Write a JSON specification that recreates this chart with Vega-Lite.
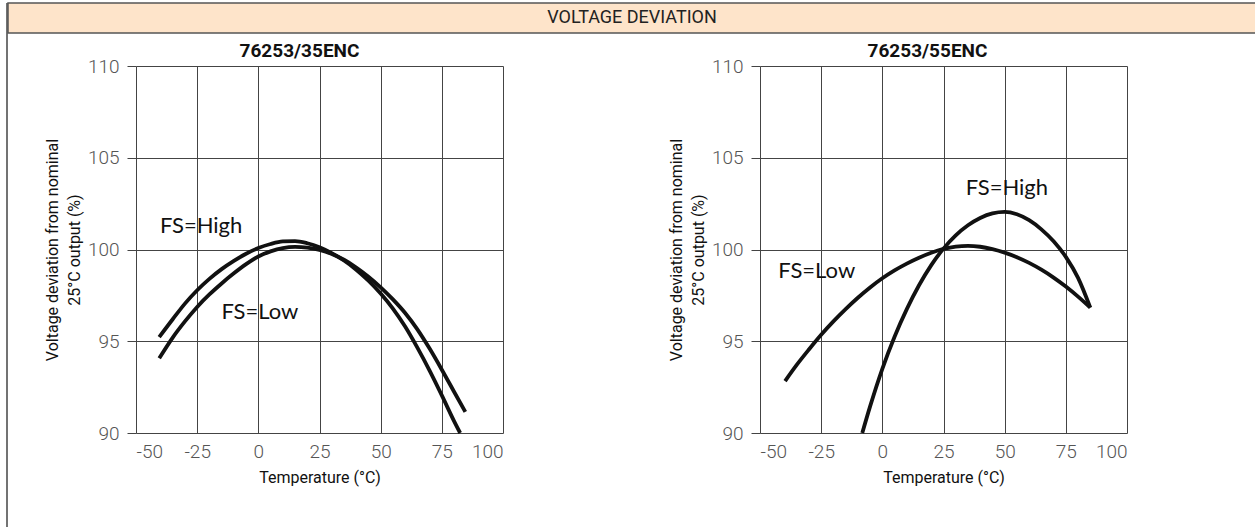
{
  "$schema": "https://vega.github.io/schema/vega-lite/v6.json",
  "padding": {"left": 6, "top": 2, "right": 0, "bottom": 0},
  "background": "white",
  "config": {
    "view": {"stroke": null},
    "font": "Roboto",
    "axis": {
      "grid": true,
      "gridColor": "#444",
      "gridWidth": 1,
      "gridOpacity": 1,
      "domain": false,
      "labelFont": "Roboto",
      "labelFontSize": 19,
      "labelFontWeight": 300,
      "labelColor": "#555",
      "labelExpr": "datum.value",
      "titleFont": "Roboto",
      "titleFontSize": 16,
      "titleFontWeight": "normal",
      "titleColor": "#111"
    },
    "title": {
      "font": "Roboto",
      "fontSize": 19,
      "fontWeight": "bold",
      "color": "#111",
      "frame": "group",
      "anchor": "middle",
      "baseline": "alphabetic",
      "offset": -4
    }
  },
  "datasets": {
    "c35": [
      {"s": "High", "t": -40.5, "v": 95.23},
      {"s": "High", "t": -35, "v": 96.2},
      {"s": "High", "t": -30, "v": 97.05},
      {"s": "High", "t": -25, "v": 97.78},
      {"s": "High", "t": -20, "v": 98.4},
      {"s": "High", "t": -15, "v": 98.93},
      {"s": "High", "t": -10, "v": 99.38},
      {"s": "High", "t": -5, "v": 99.77},
      {"s": "High", "t": 0, "v": 100.08},
      {"s": "High", "t": 5, "v": 100.3},
      {"s": "High", "t": 10, "v": 100.44},
      {"s": "High", "t": 15, "v": 100.46},
      {"s": "High", "t": 20, "v": 100.34},
      {"s": "High", "t": 25, "v": 100.12},
      {"s": "High", "t": 30, "v": 99.8},
      {"s": "High", "t": 35, "v": 99.4},
      {"s": "High", "t": 40, "v": 98.9},
      {"s": "High", "t": 45, "v": 98.3},
      {"s": "High", "t": 50, "v": 97.6},
      {"s": "High", "t": 55, "v": 96.78},
      {"s": "High", "t": 60, "v": 95.8},
      {"s": "High", "t": 65, "v": 94.65},
      {"s": "High", "t": 70, "v": 93.4},
      {"s": "High", "t": 75, "v": 92.05},
      {"s": "High", "t": 80, "v": 90.65},
      {"s": "High", "t": 82.5, "v": 90.0},
      {"s": "Low", "t": -40.5, "v": 94.07},
      {"s": "Low", "t": -35, "v": 95.2},
      {"s": "Low", "t": -30, "v": 96.08},
      {"s": "Low", "t": -25, "v": 96.87},
      {"s": "Low", "t": -20, "v": 97.55},
      {"s": "Low", "t": -15, "v": 98.15},
      {"s": "Low", "t": -10, "v": 98.7},
      {"s": "Low", "t": -5, "v": 99.2},
      {"s": "Low", "t": 0, "v": 99.62},
      {"s": "Low", "t": 5, "v": 99.9},
      {"s": "Low", "t": 10, "v": 100.08},
      {"s": "Low", "t": 15, "v": 100.14},
      {"s": "Low", "t": 20, "v": 100.1},
      {"s": "Low", "t": 25, "v": 99.98},
      {"s": "Low", "t": 30, "v": 99.76},
      {"s": "Low", "t": 35, "v": 99.44},
      {"s": "Low", "t": 40, "v": 99.02},
      {"s": "Low", "t": 45, "v": 98.52},
      {"s": "Low", "t": 50, "v": 97.94},
      {"s": "Low", "t": 55, "v": 97.28},
      {"s": "Low", "t": 60, "v": 96.54},
      {"s": "Low", "t": 65, "v": 95.65},
      {"s": "Low", "t": 70, "v": 94.6},
      {"s": "Low", "t": 75, "v": 93.45},
      {"s": "Low", "t": 80, "v": 92.25},
      {"s": "Low", "t": 84.6, "v": 91.15}
    ],
    "c55": [
      {"s": "High", "t": -8.2, "v": 90.0},
      {"s": "High", "t": -5, "v": 91.45},
      {"s": "High", "t": 0, "v": 93.5},
      {"s": "High", "t": 5, "v": 95.25},
      {"s": "High", "t": 10, "v": 96.75},
      {"s": "High", "t": 15, "v": 98.05},
      {"s": "High", "t": 20, "v": 99.15},
      {"s": "High", "t": 25, "v": 100.05},
      {"s": "High", "t": 30, "v": 100.77},
      {"s": "High", "t": 35, "v": 101.32},
      {"s": "High", "t": 40, "v": 101.72},
      {"s": "High", "t": 45, "v": 101.97},
      {"s": "High", "t": 50, "v": 102.05},
      {"s": "High", "t": 55, "v": 101.92},
      {"s": "High", "t": 60, "v": 101.6},
      {"s": "High", "t": 65, "v": 101.1},
      {"s": "High", "t": 70, "v": 100.45},
      {"s": "High", "t": 75, "v": 99.6},
      {"s": "High", "t": 80, "v": 98.45},
      {"s": "High", "t": 85, "v": 96.83},
      {"s": "Low", "t": -39.75, "v": 92.83},
      {"s": "Low", "t": -35, "v": 93.71},
      {"s": "Low", "t": -30, "v": 94.55},
      {"s": "Low", "t": -25, "v": 95.35},
      {"s": "Low", "t": -20, "v": 96.08},
      {"s": "Low", "t": -15, "v": 96.75},
      {"s": "Low", "t": -10, "v": 97.37},
      {"s": "Low", "t": -5, "v": 97.93},
      {"s": "Low", "t": 0, "v": 98.43},
      {"s": "Low", "t": 5, "v": 98.86},
      {"s": "Low", "t": 10, "v": 99.23},
      {"s": "Low", "t": 15, "v": 99.55},
      {"s": "Low", "t": 20, "v": 99.82},
      {"s": "Low", "t": 25, "v": 100.03},
      {"s": "Low", "t": 30, "v": 100.16},
      {"s": "Low", "t": 35, "v": 100.2},
      {"s": "Low", "t": 40, "v": 100.15},
      {"s": "Low", "t": 45, "v": 100.02},
      {"s": "Low", "t": 50, "v": 99.83},
      {"s": "Low", "t": 55, "v": 99.58},
      {"s": "Low", "t": 60, "v": 99.27},
      {"s": "Low", "t": 65, "v": 98.9},
      {"s": "Low", "t": 70, "v": 98.47},
      {"s": "Low", "t": 75, "v": 97.98},
      {"s": "Low", "t": 80, "v": 97.43},
      {"s": "Low", "t": 85, "v": 96.83}
    ],
    "l35": [
      {"label": "FS=High", "t": -23.4, "v": 100.92},
      {"label": "FS=Low", "t": 0.6, "v": 96.2}
    ],
    "l55": [
      {"label": "FS=High", "t": 50.9, "v": 102.97},
      {"label": "FS=Low", "t": -26.8, "v": 98.43}
    ]
  },
  "spacing": 0,
  "bounds": "flush",
  "hconcat": [
    {
      "width": 1,
      "height": 525,
      "data": {"values": [{"x": 0}]},
      "mark": {"type": "rule", "stroke": "#444", "strokeWidth": 1.5},
      "encoding": {
        "x": {"field": "x", "type": "quantitative", "scale": {"domain": [0, 1]}, "axis": null}
      }
    },
    {
      "spacing": 33,
      "bounds": "flush",
      "vconcat": [
        {
          "width": 1248,
          "height": 30,
          "view": {"fill": "#FEE4CA", "stroke": "#555", "strokeWidth": 1.5},
          "data": {"values": [{"t": "VOLTAGE DEVIATION"}]},
          "mark": {"type": "text", "fontSize": 18, "color": "#222", "font": "Roboto"},
          "encoding": {"text": {"field": "t"}}
        },
        {
          "spacing": 0,
          "bounds": "flush",
          "hconcat": [
            {
              "width": 128,
              "height": 367,
              "data": {"values": []},
              "mark": "text",
              "encoding": {}
            },
            {
              "spacing": 257,
              "bounds": "flush",
              "hconcat": [
                {
                  "width": 367,
                  "height": 367,
                  "title": {"text": "76253/35ENC", "dx": -20},
                  "layer": [
                    {
                      "data": {"name": "c35"},
                      "mark": {"type": "line", "interpolate": "monotone", "stroke": "#111", "strokeWidth": 3.8},
                      "encoding": {
                        "x": {"field": "t", "type": "quantitative", "scale": {"domain": [-50, 100], "nice": false},
                          "axis": {"values": [-50, -25, 0, 25, 50, 75, 100], "ticks": false, "tickSize": 0, "labelPadding": 9, "title": "Temperature (°C)", "titlePadding": 8}},
                        "y": {"field": "v", "type": "quantitative", "scale": {"domain": [90, 110], "nice": false, "zero": false},
                          "axis": {"values": [90, 95, 100, 105, 110], "ticks": true, "tickSize": 9, "tickColor": "#444", "labelPadding": 8, "title": ["Voltage deviation from nominal", "25°C output (%)"], "titlePadding": 5, "titleLineHeight": 22}},
                        "detail": {"field": "s"}
                      }
                    },
                    {
                      "data": {"name": "l35"},
                      "mark": {"type": "text", "font": "Lato", "fontSize": 22, "baseline": "alphabetic", "align": "center", "color": "#111"},
                      "encoding": {
                        "x": {"field": "t", "type": "quantitative"},
                        "y": {"field": "v", "type": "quantitative"},
                        "text": {"field": "label"}
                      }
                    }
                  ]
                },
                {
                  "width": 367,
                  "height": 367,
                  "title": {"text": "76253/55ENC", "dx": -16},
                  "layer": [
                    {
                      "data": {"name": "c55"},
                      "mark": {"type": "line", "interpolate": "monotone", "stroke": "#111", "strokeWidth": 3.8},
                      "encoding": {
                        "x": {"field": "t", "type": "quantitative", "scale": {"domain": [-50, 100], "nice": false},
                          "axis": {"values": [-50, -25, 0, 25, 50, 75, 100], "ticks": false, "tickSize": 0, "labelPadding": 9, "title": "Temperature (°C)", "titlePadding": 8}},
                        "y": {"field": "v", "type": "quantitative", "scale": {"domain": [90, 110], "nice": false, "zero": false},
                          "axis": {"values": [90, 95, 100, 105, 110], "ticks": true, "tickSize": 9, "tickColor": "#444", "labelPadding": 8, "title": ["Voltage deviation from nominal", "25°C output (%)"], "titlePadding": 5, "titleLineHeight": 22}},
                        "detail": {"field": "s"}
                      }
                    },
                    {
                      "data": {"name": "l55"},
                      "mark": {"type": "text", "font": "Lato", "fontSize": 22, "baseline": "alphabetic", "align": "center", "color": "#111"},
                      "encoding": {
                        "x": {"field": "t", "type": "quantitative"},
                        "y": {"field": "v", "type": "quantitative"},
                        "text": {"field": "label"}
                      }
                    }
                  ]
                }
              ]
            }
          ]
        }
      ]
    }
  ]
}
